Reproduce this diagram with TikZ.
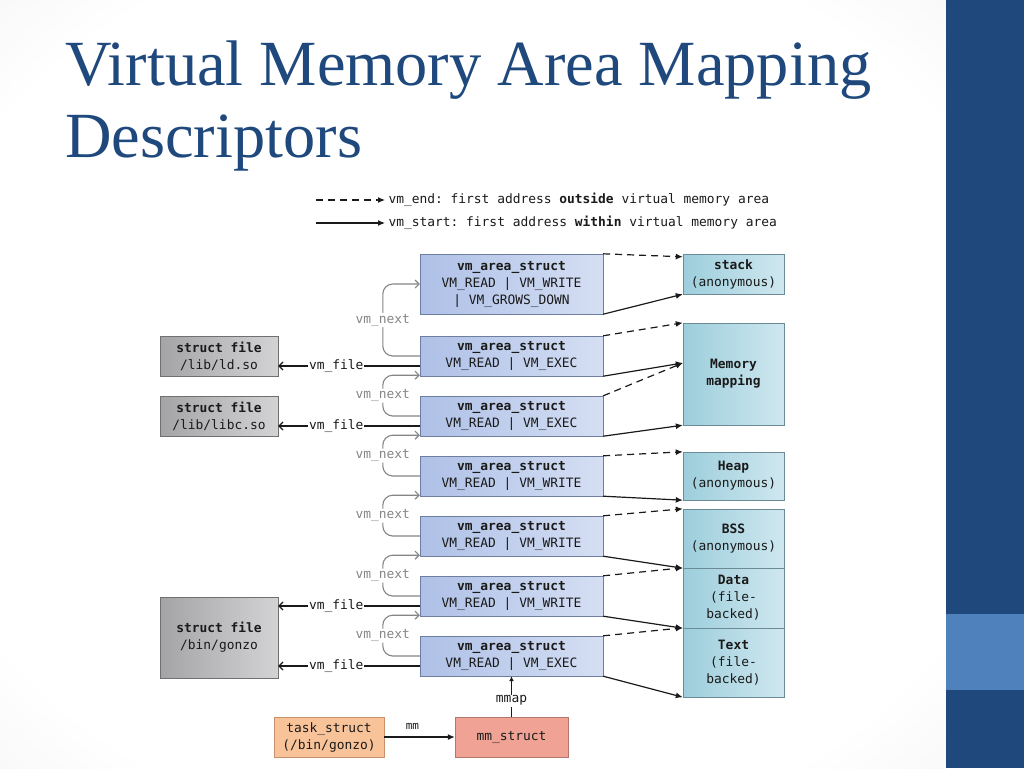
\documentclass[tikz,border=0pt]{standalone}
\usepackage{fontspec}
\setmainfont{Liberation Serif}
\setmonofont{DejaVu Sans Mono}
\usetikzlibrary{positioning,arrows.meta,calc}
\definecolor{titleblue}{HTML}{1F497D}
\definecolor{panelblue}{HTML}{1F497D}
\definecolor{panellight}{HTML}{4F81BD}
\definecolor{txt}{HTML}{1A1A1A}
\definecolor{nextgray}{HTML}{858585}
\definecolor{vmaleft}{HTML}{AEC0E7}
\definecolor{vmaright}{HTML}{D5DFF3}
\definecolor{vmaline}{HTML}{6E7E9E}
\definecolor{regleft}{HTML}{9DCEDC}
\definecolor{regright}{HTML}{CFE7EF}
\definecolor{regline}{HTML}{6B8C96}
\definecolor{fileleft}{HTML}{A4A4A6}
\definecolor{fileright}{HTML}{D3D3D5}
\definecolor{fileline}{HTML}{707070}
\definecolor{taskfill}{HTML}{F9C399}
\definecolor{taskline}{HTML}{C8916B}
\definecolor{mmfill}{HTML}{F0A394}
\definecolor{mmline}{HTML}{B5756B}
\newcommand{\diagfont}{\ttfamily\fontsize{12.9}{17}\selectfont}
\newcommand{\titlefont}{\fontsize{64.4}{72}\selectfont}
\pgfdeclareradialshading{slideshade}{\pgfpoint{0bp}{0bp}}{color(0bp)=(white); color(30bp)=(white); color(50bp)=(black!9); color(72bp)=(black!17)}
\tikzset{
vmanode/.style={rectangle, draw=vmaline, left color=vmaleft, right color=vmaright, minimum width=183pt, minimum height=40pt, inner sep=0pt, align=center, text=txt, font=\diagfont},
regionnode/.style={rectangle, draw=regline, left color=regleft, right color=regright, minimum width=101pt, inner sep=0pt, align=center, text=txt, font=\diagfont},
filenode/.style={rectangle, draw=fileline, left color=fileleft, right color=fileright, minimum width=118pt, minimum height=40pt, inner sep=0pt, align=center, text=txt, font=\diagfont},
>={Latex[width=6pt,length=7pt]},
endarrow/.style={->, dash pattern=on 7pt off 5pt, line width=1.2pt, draw=txt},
startarrow/.style={->, line width=1.2pt, draw=txt},
filearrow/.style={{Straight Barb[length=4pt,width=8pt]}-, line width=1.2pt, draw=txt},
nextarrow/.style={-{Straight Barb[length=4pt,width=8pt]}, draw=nextgray, line width=1.1pt, rounded corners=10pt},
lbl/.style={fill=white, inner sep=1pt, text=txt, font=\diagfont}
}
\begin{document}
\begin{tikzpicture}[x=1pt, y=-1pt]
\useasboundingbox (0,0) rectangle (1024,768);

%Slide background
\fill[shading=slideshade] (0,0) rectangle (946,768);
\fill[white] (157,185) rectangle (800,762);
\fill[panelblue] (946,0) rectangle (1024,768);
\fill[panellight] (946,614) rectangle (1024,690);

\node[anchor=base west, inner sep=0pt, font=\titlefont, text=titleblue] (titleA) at (65,85) {Virtual Memory Area Mapping};
\node[anchor=base west, inner sep=0pt, font=\titlefont, text=titleblue] (titleB) at (65,157) {Descriptors};

%Legend
\node[anchor=west, text=txt, font=\diagfont] (legendEnd) at (385,200) {vm\_end: first address \textbf{outside} virtual memory area};
\node[anchor=west, text=txt, font=\diagfont] (legendStart) at (385,223) {vm\_start: first address \textbf{within} virtual memory area};
\coordinate (legendEndFrom) at (316,200);
\coordinate (legendStartFrom) at (316,223);
\draw[endarrow] (legendEndFrom) -- (legendEnd.west);
\draw[startarrow] (legendStartFrom) -- (legendStart.west);

%vm_area_struct nodes
\node[vmanode, minimum height=60pt] (vma1) at (511.5,284) {\textbf{vm\_area\_struct}\\VM\_READ | VM\_WRITE\\| VM\_GROWS\_DOWN};
\node[vmanode] (vma2) at (511.5,356) {\textbf{vm\_area\_struct}\\VM\_READ | VM\_EXEC};
\node[vmanode] (vma3) at (511.5,416) {\textbf{vm\_area\_struct}\\VM\_READ | VM\_EXEC};
\node[vmanode] (vma4) at (511.5,476) {\textbf{vm\_area\_struct}\\VM\_READ | VM\_WRITE};
\node[vmanode] (vma5) at (511.5,536) {\textbf{vm\_area\_struct}\\VM\_READ | VM\_WRITE};
\node[vmanode] (vma6) at (511.5,596) {\textbf{vm\_area\_struct}\\VM\_READ | VM\_WRITE};
\node[vmanode] (vma7) at (511.5,656) {\textbf{vm\_area\_struct}\\VM\_READ | VM\_EXEC};

%Memory regions
\node[regionnode, minimum height=40pt] (stack) at (733.5,274) {\textbf{stack}\\(anonymous)};
\node[regionnode, minimum height=102pt] (mem) at (733.5,374) {\textbf{Memory}\\\textbf{mapping}};
\node[regionnode, minimum height=48pt] (heap) at (733.5,476) {\textbf{Heap}\\(anonymous)};
\node[regionnode, minimum height=59pt] (bss) at (733.5,538.5) {\textbf{BSS}\\(anonymous)};
\node[regionnode, minimum height=60pt] (data) at (733.5,598) {\textbf{Data}\\(file-\\backed)};
\node[regionnode, minimum height=69pt] (text) at (733.5,662.5) {\textbf{Text}\\(file-\\backed)};

%Files
\node[filenode] (ldso) at (219,356) {\textbf{struct file}\\/lib/ld.so};
\node[filenode] (libc) at (219,416) {\textbf{struct file}\\/lib/libc.so};
\node[filenode, minimum height=81pt] (gonzo) at (219,637.5) {\textbf{struct file}\\/bin/gonzo};

%Process
\node[rectangle, draw=taskline, fill=taskfill, minimum width=110pt, minimum height=40pt, inner sep=0pt, align=center, text=txt, font=\diagfont] (task) at (329,737) {task\_struct\\(/bin/gonzo)};
\node[rectangle, draw=mmline, fill=mmfill, minimum width=113pt, minimum height=40pt, inner sep=0pt, text=txt, font=\diagfont] (mm) at (511.5,737) {mm\_struct};

\draw[->, line width=1.2pt, draw=txt] (task.east) -- node[above=4pt, pos=0.4, text=txt, font=\ttfamily\fontsize{11}{13}\selectfont] {mm} (mm.west);
\draw[->, line width=1.2pt, draw=txt, >={Latex[width=5pt,length=5pt]}] (mm.north) -- node[lbl, pos=0.4] {mmap} (vma7.south);

%vm_next
\draw[nextarrow] (vma2.west) -- ++(-37,0) |- node[lbl, pos=0.25, text=nextgray] {vm\_next} (vma1.west);
\draw[nextarrow] (vma3.west) -- ++(-37,0) |- node[lbl, pos=0.25, text=nextgray] {vm\_next} ([yshift=1pt]vma2.south west);
\draw[nextarrow] (vma4.west) -- ++(-37,0) |- node[lbl, pos=0.25, text=nextgray] {vm\_next} ([yshift=1pt]vma3.south west);
\draw[nextarrow] (vma5.west) -- ++(-37,0) |- node[lbl, pos=0.25, text=nextgray] {vm\_next} ([yshift=1pt]vma4.south west);
\draw[nextarrow] (vma6.west) -- ++(-37,0) |- node[lbl, pos=0.25, text=nextgray] {vm\_next} ([yshift=1pt]vma5.south west);
\draw[nextarrow] (vma7.west) -- ++(-37,0) |- node[lbl, pos=0.25, text=nextgray] {vm\_next} ([yshift=1pt]vma6.south west);

%vm_file
\coordinate (file2) at ([yshift=-10pt]vma2.west);
\coordinate (file3) at ([yshift=-10pt]vma3.west);
\coordinate (file6) at ([yshift=-10pt]vma6.west);
\coordinate (file7) at ([yshift=-10pt]vma7.west);
\draw[filearrow] (ldso.east |- file2) -- node[lbl, pos=0.41] {vm\_file} (file2);
\draw[filearrow] (libc.east |- file3) -- node[lbl, pos=0.41] {vm\_file} (file3);
\draw[filearrow] (gonzo.east |- file6) -- node[lbl, pos=0.41] {vm\_file} (file6);
\draw[filearrow] (gonzo.east |- file7) -- node[lbl, pos=0.41] {vm\_file} (file7);

%vm_start / vm_end
\coordinate (memMid) at ([yshift=11pt]mem.west);
\draw[endarrow] (vma1.north east) -- ([yshift=-3pt]stack.north west);
\draw[startarrow] (vma1.south east) -- (stack.south west);
\draw[endarrow] (vma2.north east) -- (mem.north west);
\draw[startarrow] (vma2.south east) -- (memMid);
\draw[endarrow] (vma3.north east) -- (memMid);
\draw[startarrow] (vma3.south east) -- (mem.south west);
\draw[endarrow] (vma4.north east) -- (heap.north west);
\draw[startarrow] (vma4.south east) -- (heap.south west);
\draw[endarrow] (vma5.north east) -- (bss.north west);
\draw[startarrow] (vma5.south east) -- (bss.south west);
\draw[endarrow] (vma6.north east) -- (data.north west);
\draw[startarrow] (vma6.south east) -- (data.south west);
\draw[endarrow] (vma7.north east) -- (text.north west);
\draw[startarrow] (vma7.south east) -- (text.south west);
\end{tikzpicture}
\end{document}
